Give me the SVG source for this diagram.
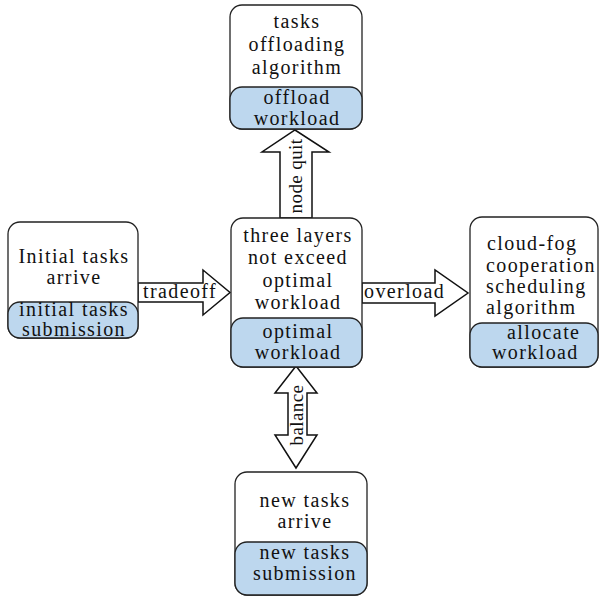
<svg xmlns="http://www.w3.org/2000/svg" width="599" height="597" viewBox="0 0 599 597">
<style>
.box{fill:#fff;stroke:#222;stroke-width:1.3}
.sub{fill:#bdd7ee;stroke:#222;stroke-width:1.3}
.arr{fill:#fff;stroke:#111;stroke-width:1.5;stroke-linejoin:miter}
text{font-family:"Liberation Serif","Times New Roman",serif;font-size:20px;letter-spacing:1.4px;fill:#111}
.c{text-anchor:middle}
.r{font-size:19px;letter-spacing:0.4px;text-anchor:middle}
</style>
<rect width="599" height="597" fill="#fff"/>
<g id="connectors">
<polygon class="arr" points="280,218 280,152 262,152 295,130 329,152 312,152 312,218"/>
<polygon class="arr" points="138,283 203,283 203,270 230,292.5 203,315 203,302 138,302"/>
<polygon class="arr" points="362,283 435,283 435,270 468,293 435,316 435,303 362,303"/>
<polygon class="arr" points="296,366 317,393 307,393 307,435 317,435 296,468 275,435 288,435 288,393 275,393"/>
<text x="143" y="298">tradeoff</text>
<text x="364" y="298">overload</text>
<text class="r" transform="translate(302,176) rotate(-90)">node quit</text>
<text class="r" transform="translate(303,415) rotate(-90)">balance</text>
</g>
<g id="node-top">
<rect class="box" x="230" y="5" width="132" height="124" rx="12"/>
<rect class="sub" x="230" y="87" width="132" height="42" rx="12"/>
<text class="c" x="297" y="28">tasks</text>
<text class="c" x="297" y="51">offloading</text>
<text class="c" x="297" y="74">algorithm</text>
<text class="c" x="297" y="104">offload</text>
<text class="c" x="297" y="125">workload</text>
</g>
<g id="node-left">
<rect class="box" x="8" y="222" width="130" height="116" rx="12"/>
<rect class="sub" x="8" y="302" width="130" height="36" rx="12"/>
<text class="c" x="74" y="263">Initial tasks</text>
<text class="c" x="74" y="284">arrive</text>
<text class="c" x="74" y="316">initial tasks</text>
<text class="c" x="74" y="336">submission</text>
</g>
<g id="node-center">
<rect class="box" x="231" y="218" width="131" height="149" rx="12"/>
<rect class="sub" x="231" y="318" width="131" height="49" rx="12"/>
<text class="c" x="298" y="242">three layers</text>
<text class="c" x="298" y="264">not exceed</text>
<text class="c" x="298" y="287">optimal</text>
<text class="c" x="298" y="309">workload</text>
<text class="c" x="298" y="338">optimal</text>
<text class="c" x="298" y="359">workload</text>
</g>
<g id="node-right">
<rect class="box" x="470" y="217" width="128" height="150" rx="12"/>
<rect class="sub" x="470" y="323" width="128" height="44" rx="12"/>
<text x="487" y="250">cloud-fog</text>
<text x="486" y="272">cooperation</text>
<text x="486" y="293">scheduling</text>
<text x="486" y="314">algorithm</text>
<text x="507" y="339">allocate</text>
<text x="492" y="359">workload</text>
</g>
<g id="node-bottom">
<rect class="box" x="235" y="472" width="132" height="123" rx="12"/>
<rect class="sub" x="235" y="542" width="132" height="53" rx="12"/>
<text class="c" x="305" y="507">new tasks</text>
<text class="c" x="305" y="528">arrive</text>
<text class="c" x="305" y="559">new tasks</text>
<text class="c" x="305" y="580">submission</text>
</g>
</svg>
